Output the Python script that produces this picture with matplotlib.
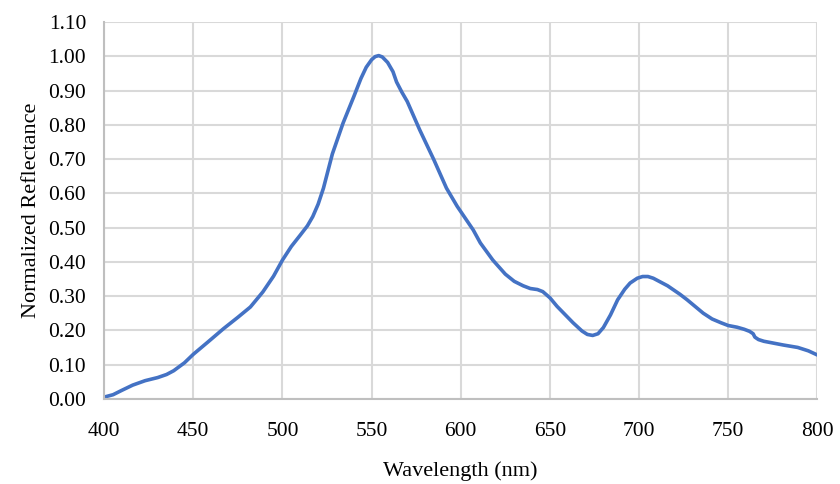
import matplotlib
matplotlib.use("Agg")
import matplotlib.pyplot as plt
import numpy as np

wavelength = [400, 405, 410, 416, 423, 430, 435, 439, 445, 450, 458, 467, 475, 482, 489, 495, 500,
              505, 510, 514, 517, 520, 523, 528, 534, 540, 544, 547, 550, 552, 554, 556, 559, 562,
              564, 567, 570, 577, 585, 592, 598, 607, 611, 618, 625, 630, 635, 639, 643, 646, 650,
              654, 663, 668, 671, 674, 677, 680, 684, 688, 692, 695, 699, 702, 705, 708, 716, 723,
              727, 736, 741, 746, 750, 755, 759, 762, 764, 765, 767, 770, 775, 781, 789, 795, 800]
reflectance = [0.005, 0.012, 0.025, 0.040, 0.053, 0.062, 0.071, 0.082, 0.105, 0.130, 0.165, 0.205, 0.238,
               0.268, 0.312, 0.358, 0.405, 0.445, 0.478, 0.505, 0.532, 0.568, 0.615, 0.715, 0.805,
               0.882, 0.935, 0.968, 0.990, 0.999, 1.002, 0.998, 0.982, 0.955, 0.925, 0.895, 0.868,
               0.785, 0.697, 0.615, 0.562, 0.493, 0.455, 0.405, 0.364, 0.343, 0.330, 0.322, 0.319,
               0.313, 0.295, 0.270, 0.222, 0.198, 0.188, 0.185, 0.190, 0.208, 0.245, 0.289, 0.320,
               0.338, 0.352, 0.357, 0.357, 0.352, 0.330, 0.305, 0.289, 0.250, 0.233, 0.222, 0.214,
               0.209, 0.203, 0.197, 0.190, 0.180, 0.173, 0.168, 0.163, 0.157, 0.150, 0.140, 0.128]

xticks = [400, 450, 500, 550, 600, 650, 700, 750, 800]
yticks = [0.0, 0.1, 0.2, 0.3, 0.4, 0.5, 0.6, 0.7, 0.8, 0.9, 1.0, 1.1]

plt.rcParams['font.family'] = ['Liberation Serif', 'DejaVu Serif']

fig = plt.figure(figsize=(8.4, 4.84), dpi=100)
ax = fig.add_axes([0.124, 0.176, 0.849, 0.7785])

ax.plot(wavelength, reflectance, color='#4472C4', linewidth=2.6, solid_capstyle='round',
        solid_joinstyle='round')

ax.set_xlim(400, 800)
ax.set_ylim(0, 1.10)
ax.set_xticks(xticks)
ax.set_yticks(yticks)
ax.set_yticklabels([f"{v:.2f}" for v in yticks])
ax.grid(True, color='#d9d9d9', linewidth=1.5)
ax.set_axisbelow(True)
for s in ['top', 'right']:
    ax.spines[s].set_visible(False)
for s in ['left', 'bottom']:
    ax.spines[s].set_color('#bfbfbf')
    ax.spines[s].set_linewidth(1.5)
ax.tick_params(length=0, labelsize=15.5, colors='black')
ax.tick_params(axis='y', pad=13)
ax.tick_params(axis='x', pad=17)
ax.set_xlabel('Wavelength (nm)', fontsize=16, labelpad=14)
ax.set_ylabel('Normalized Reflectance', fontsize=16, labelpad=5)

fig.savefig('out.png', dpi=100)
